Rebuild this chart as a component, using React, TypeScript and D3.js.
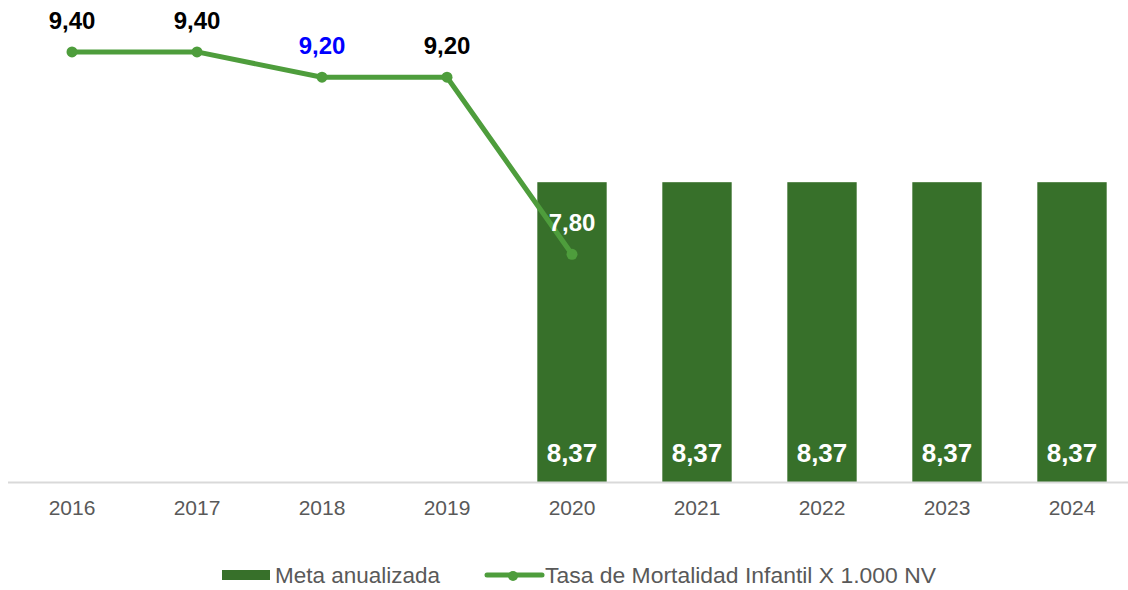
import React from "react";
import * as d3 from "d3";

const years = ["2016", "2017", "2018", "2019", "2020", "2021", "2022", "2023", "2024"];
const tasaMortalidad: (number | null)[] = [9.4, 9.4, 9.2, 9.2, 7.8, null, null, null, null];
const metaAnualizada: (number | null)[] = [null, null, null, null, 8.37, 8.37, 8.37, 8.37, 8.37];
const legendLabels = ["Meta anualizada", "Tasa de Mortalidad Infantil X 1.000 NV"];

const W = 1128;
const H = 590;
const BAR_COLOR = "#37702a";
const LINE_COLOR = "#4e9d3c";
const FONT = "'Liberation Sans', Arial, sans-serif";

const fmt = (v: number) => v.toFixed(2).replace(".", ",");

export default function App() {
  const x = d3.scaleBand<string>().domain(years).range([9.5, 1134.5]).padding(0);
  const y = d3.scaleLinear().domain([6, 10]).range([482, 482 - 4 * 126.5]);
  const bw = x.bandwidth() * 0.555;
  const cx = (d: string) => (x(d) as number) + x.bandwidth() / 2;

  const linePts = years
    .map((yr, i) => ({ yr, v: tasaMortalidad[i] }))
    .filter((p) => p.v !== null) as { yr: string; v: number }[];
  const lineGen = d3
    .line<{ yr: string; v: number }>()
    .x((d) => cx(d.yr))
    .y((d) => y(d.v));

  const lineLabelColors = ["#000000", "#000000", "#0000ff", "#000000", "#ffffff"];

  return (
    <svg
      width={W}
      height={H}
      style={{ position: "absolute", left: 0, top: 0, background: "#ffffff" }}
      fontFamily={FONT}
    >
      <rect x={0} y={0} width={W} height={H} fill="#ffffff" />
      {/* bars */}
      {years.map((yr, i) =>
        metaAnualizada[i] !== null ? (
          <rect
            key={"b" + yr}
            x={cx(yr) - bw / 2}
            y={y(metaAnualizada[i] as number)}
            width={bw}
            height={y(6) - y(metaAnualizada[i] as number)}
            fill={BAR_COLOR}
          />
        ) : null
      )}
      {/* axis */}
      <line x1={8} x2={W} y1={y(6) + 0.5} y2={y(6) + 0.5} stroke="#d9d9d9" strokeWidth={2} />
      {years.map((yr) => (
        <text
          key={"t" + yr}
          x={cx(yr)}
          y={515}
          textAnchor="middle"
          fontSize={21}
          fill="#595959"
        >
          {yr}
        </text>
      ))}
      {/* line */}
      <path d={lineGen(linePts) || ""} fill="none" stroke={LINE_COLOR} strokeWidth={5} strokeLinejoin="round" />
      {linePts.map((p) => (
        <circle key={"c" + p.yr} cx={cx(p.yr)} cy={y(p.v)} r={5.5} fill={LINE_COLOR} />
      ))}
      {/* bar labels */}
      {years.map((yr, i) =>
        metaAnualizada[i] !== null ? (
          <text
            key={"bl" + yr}
            x={cx(yr)}
            y={y(6) - 20}
            textAnchor="middle"
            fontSize={26}
            fontWeight="bold"
            fill="#ffffff"
          >
            {fmt(metaAnualizada[i] as number)}
          </text>
        ) : null
      )}
      {/* line labels */}
      {linePts.map((p, i) => (
        <text
          key={"ll" + p.yr}
          x={cx(p.yr)}
          y={y(p.v) - 23}
          textAnchor="middle"
          fontSize={24}
          fontWeight="bold"
          fill={lineLabelColors[i]}
        >
          {fmt(p.v)}
        </text>
      ))}
      {/* legend */}
      <rect x={222} y={570} width={48} height={10} fill={BAR_COLOR} />
      <text x={275} y={583} fontSize={22} fill="#595959" textLength={165} lengthAdjust="spacingAndGlyphs">
        {legendLabels[0]}
      </text>
      <line x1={487} x2={542} y1={575} y2={575} stroke={LINE_COLOR} strokeWidth={5} strokeLinecap="round" />
      <circle cx={513} cy={576} r={5} fill={LINE_COLOR} />
      <text x={545} y={583} fontSize={22} fill="#595959" textLength={391} lengthAdjust="spacingAndGlyphs">
        {legendLabels[1]}
      </text>
    </svg>
  );
}
